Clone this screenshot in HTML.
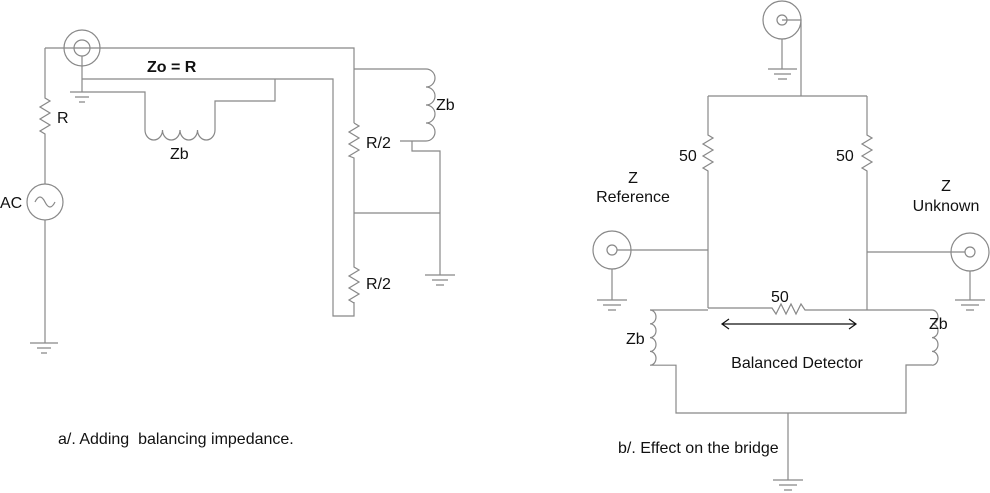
<!DOCTYPE html>
<html><head><style>
body{margin:0;background:#fff;}
svg{display:block;}
text{font-family:"Liberation Sans",Arial,sans-serif;font-size:16px;fill:#111;}
</style></head><body>
<svg width="990" height="493" viewBox="0 0 990 493" xmlns="http://www.w3.org/2000/svg">
<g fill="none" stroke="#888" stroke-width="1.2">
<!-- LEFT PANEL -->
<circle cx="82" cy="48" r="18"/><circle cx="82" cy="48" r="8"/>
<path d="M45 48H354V123"/>
<path d="M45 48V98 l5 3 l-10 6 l10 6 l-10 6 l10 6 l-10 6 l5 3 V184"/>
<circle cx="45" cy="202" r="18"/>
<path d="M35 202 q5 -10 10 0 q5 10 10 0"/>
<path d="M45 220V343"/>
<path d="M30 343H58M37 348H51M41 353H47"/>
<path d="M82 56V92"/>
<path d="M70 92H145V130"/>
<path d="M75 97H89M79 102H85"/>
<path d="M82 79H333V316H354V302"/>
<path d="M275 79V101H215V130"/>
<path d="M145 130 a8.75 10 0 0 0 17.5 0 a8.75 10 0 0 0 17.5 0 a8.75 10 0 0 0 17.5 0 a8.75 10 0 0 0 17.5 0"/>
<path d="M354 123 l5 3 l-10 6 l10 6 l-10 6 l10 6 l-10 6 l5 2 V267 l5 3 l-10 6 l10 6 l-10 6 l10 6 l-10 6 l5 3"/>
<path d="M354 69H426 a9 9 0 0 1 0 18 a9 9 0 0 1 0 18 a9 9 0 0 1 0 18 a9 9 0 0 1 0 18 H400"/>
<path d="M412 141V151H440V275"/>
<path d="M354 213H440"/>
<path d="M425 275H455M432 280H448M436 285H444"/>
<!-- RIGHT PANEL -->
<circle cx="782" cy="20" r="19"/><circle cx="782" cy="20" r="5"/>
<path d="M782 20H801V96"/>
<path d="M782 39V69M768 69H797M774 74H791M778 79H787"/>
<path d="M708 96H867"/>
<path d="M708 96V135 l5 3 l-10 6 l10 6 l-10 6 l10 6 l-10 6 l5 3 V308"/>
<path d="M867 96V135 l5 3 l-10 6 l10 6 l-10 6 l10 6 l-10 6 l5 3 V310"/>
<circle cx="612" cy="250" r="19"/><circle cx="612" cy="250" r="5"/>
<path d="M617 250H708M612 269V300M597 300H627M603 305H621M608 310H616"/>
<circle cx="970" cy="252" r="19"/><circle cx="970" cy="252" r="5"/>
<path d="M867 252H965M970 271V300M955 300H985M961 305H979M966 310H974"/>
<path d="M708 308H772 l4 6 l5 -10 l5 10 l5 -10 l5 10 l5 -10 l4 6 H867"/>
<path d="M708 310H650 a6 6.9 0 0 1 0 13.8 a6 6.9 0 0 1 0 13.8 a6 6.9 0 0 1 0 13.8 a6 6.9 0 0 1 0 13.8 H676V413H906V365H932"/>
<path d="M867 310H932 a6 6.9 0 0 1 0 13.8 a6 6.9 0 0 1 0 13.8 a6 6.9 0 0 1 0 13.8 a6 6.9 0 0 1 0 13.8"/>
<path d="M788 413V480M773 480H803M779 485H797M784 490H792"/>
</g>
<g fill="none" stroke="#111" stroke-width="1.2">
<path d="M722 324H856M729 319l-7 5 7 5M849 319l7 5-7 5"/>
</g>
<text x="147" y="72" font-weight="bold">Zo = R</text>
<text x="57" y="123">R</text>
<text x="170" y="159">Zb</text>
<text x="436" y="110">Zb</text>
<text x="366" y="148">R/2</text>
<text x="366" y="289">R/2</text>
<text x="0" y="208">AC</text>
<text x="58" y="444" xml:space="preserve">a/. Adding  balancing impedance.</text>
<text x="679" y="161">50</text>
<text x="836" y="161">50</text>
<text x="771" y="302">50</text>
<text x="633" y="183" text-anchor="middle">Z</text>
<text x="633" y="202" text-anchor="middle">Reference</text>
<text x="946" y="191" text-anchor="middle">Z</text>
<text x="946" y="211" text-anchor="middle">Unknown</text>
<text x="626" y="344">Zb</text>
<text x="929" y="329">Zb</text>
<text x="797" y="368" text-anchor="middle">Balanced Detector</text>
<text x="618" y="453">b/. Effect on the bridge</text>
</svg>
</body></html>
